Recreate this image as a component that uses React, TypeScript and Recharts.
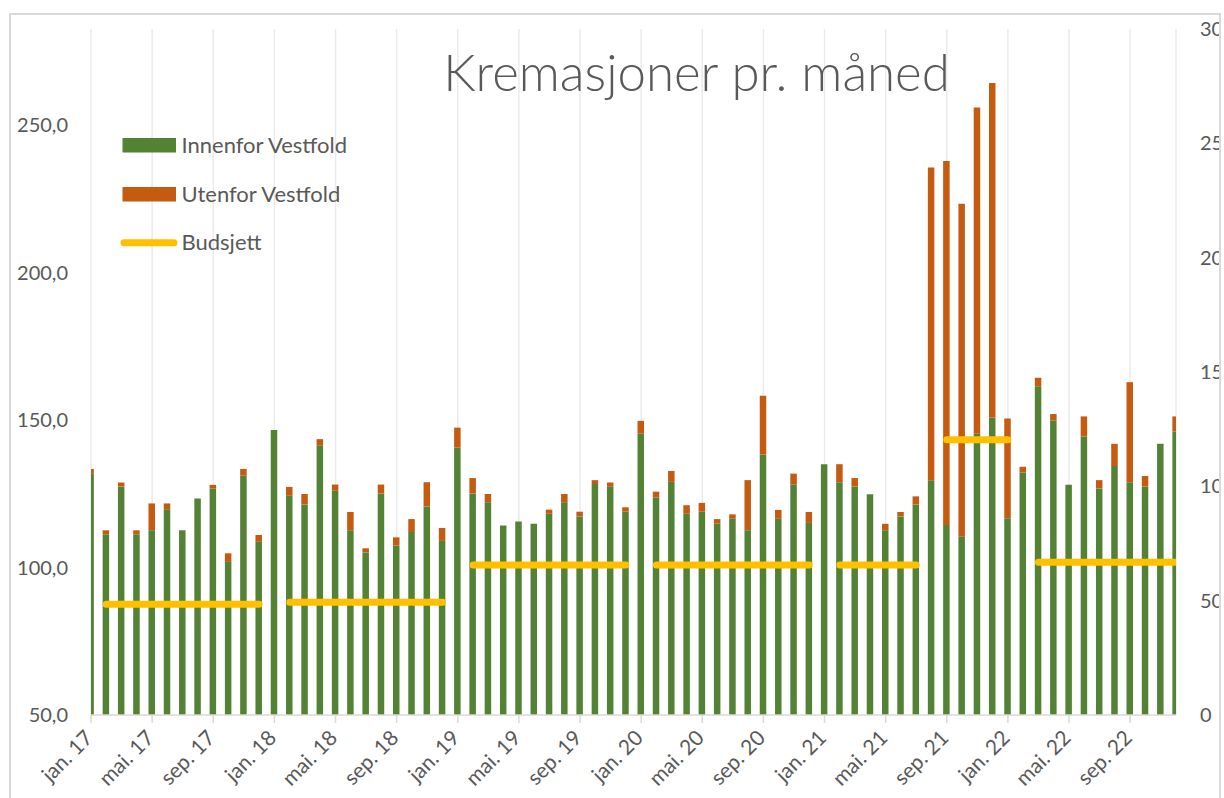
import React from 'react';
import { ComposedChart, Bar, Line, XAxis, YAxis, CartesianGrid } from 'recharts';

const months = [
  'jan. 17', 'feb. 17', 'mar. 17', 'apr. 17', 'mai. 17', 'jun. 17', 'jul. 17', 'aug. 17', 'sep. 17', 'okt. 17', 'nov. 17', 'des. 17',
  'jan. 18', 'feb. 18', 'mar. 18', 'apr. 18', 'mai. 18', 'jun. 18', 'jul. 18', 'aug. 18', 'sep. 18', 'okt. 18', 'nov. 18', 'des. 18',
  'jan. 19', 'feb. 19', 'mar. 19', 'apr. 19', 'mai. 19', 'jun. 19', 'jul. 19', 'aug. 19', 'sep. 19', 'okt. 19', 'nov. 19', 'des. 19',
  'jan. 20', 'feb. 20', 'mar. 20', 'apr. 20', 'mai. 20', 'jun. 20', 'jul. 20', 'aug. 20', 'sep. 20', 'okt. 20', 'nov. 20', 'des. 20',
  'jan. 21', 'feb. 21', 'mar. 21', 'apr. 21', 'mai. 21', 'jun. 21', 'jul. 21', 'aug. 21', 'sep. 21', 'okt. 21', 'nov. 21', 'des. 21',
  'jan. 22', 'feb. 22', 'mar. 22', 'apr. 22', 'mai. 22', 'jun. 22', 'jul. 22', 'aug. 22', 'sep. 22', 'okt. 22', 'nov. 22', 'des. 22',
];

const tickLabels = [
  'jan. 17', 'mai. 17', 'sep. 17', 'jan. 18', 'mai. 18', 'sep. 18', 'jan. 19', 'mai. 19', 'sep. 19',
  'jan. 20', 'mai. 20', 'sep. 20', 'jan. 21', 'mai. 21', 'sep. 21', 'jan. 22', 'mai. 22', 'sep. 22',
];

const innenfor = [
  131.9, 111.3, 127.4, 111.3, 112.6, 119.7, 112.6, 123.4, 126.7, 101.9, 131.1, 108.7,
  146.6, 124.3, 121.3, 141.4, 126.0, 112.6, 105.1, 125.1, 107.4, 112.0, 120.7, 109.0,
  140.6, 125.1, 122.1, 114.2, 115.6, 114.8, 118.2, 122.1, 117.3, 128.3, 127.5, 118.9,
  145.4, 123.7, 129.0, 118.2, 118.9, 114.9, 116.5, 112.6, 138.3, 116.5, 128.1, 115.1,
  135.0, 128.9, 127.4, 124.8, 112.6, 117.3, 121.3, 129.6, 114.4, 110.4, 145.3, 150.8,
  116.7, 132.2, 161.4, 149.8, 128.0, 144.4, 126.8, 134.4, 128.9, 127.4, 141.9, 146.1,
];

const utenfor = [
  1.5, 1.3, 1.4, 1.3, 9.1, 2.0, 0, 0, 1.3, 2.9, 2.3, 2.3,
  0, 3.0, 3.6, 2.1, 2.1, 6.2, 1.4, 3.0, 2.8, 4.4, 8.2, 4.4,
  6.8, 5.2, 2.8, 0, 0, 0, 1.4, 2.8, 1.6, 1.3, 1.3, 1.5,
  4.3, 2.0, 3.7, 2.9, 3.0, 1.5, 1.5, 17.0, 19.9, 3.0, 3.7, 3.7,
  0, 6.1, 2.9, 0, 2.2, 1.5, 2.8, 106.0, 123.4, 112.9, 110.6, 113.4,
  33.8, 1.9, 2.9, 2.2, 0, 6.8, 2.8, 7.5, 33.9, 3.6, 0, 5.1,
];

const budsjett: (number | null)[] = [
  null, 87.5, 87.5, 87.5, 87.5, 87.5, 87.5, 87.5, 87.5, 87.5, 87.5, 87.5,
  null, 88.2, 88.2, 88.2, 88.2, 88.2, 88.2, 88.2, 88.2, 88.2, 88.2, 88.2,
  null, 100.8, 100.8, 100.8, 100.8, 100.8, 100.8, 100.8, 100.8, 100.8, 100.8, 100.8,
  null, 100.8, 100.8, 100.8, 100.8, 100.8, 100.8, 100.8, 100.8, 100.8, 100.8, 100.8,
  null, 100.8, 100.8, 100.8, 100.8, 100.8, 100.8, null, 143.3, 143.3, 143.3, 143.3,
  143.3, null, 101.8, 101.8, 101.8, 101.8, 101.8, 101.8, 101.8, 101.8, 101.8, 101.8,
];

const leftTicks = [50, 100, 150, 200, 250];
const rightTicks = [0, 50, 100, 150, 200, 250, 300];

const data = months.map((m, i) => ({
  idx: i,
  month: m,
  innenfor: innenfor[i],
  utenfor: utenfor[i],
  budsjett: budsjett[i],
}));

const xTicks = tickLabels.map((l) => months.indexOf(l));

const GREEN = '#548235';
const ORANGE = '#c55a11';
const YELLOW = '#ffc000';
const TEXT = '#595959';
const FONT = 'Lato, "Open Sans", sans-serif';

const XTick = (props: any) => {
  const { x, y, payload } = props;
  return (
    <text
      x={0}
      y={0}
      transform={`translate(${x - 2},${y + 9}) rotate(-45)`}
      textAnchor="end"
      dy="0.35em"
      fill={TEXT}
      fontSize={21}
      fontFamily={FONT}
    >
      {months[payload.value]}
    </text>
  );
};

export default function App() {
  return (
    <div
      style={{
        position: 'absolute',
        left: 0,
        top: 0,
        width: 1224,
        height: 798,
        overflow: 'hidden',
        background: '#ffffff',
        fontFamily: FONT,
      }}
    >
      <div style={{ position: 'absolute', left: 0, top: 0, width: 1221, height: 798, overflow: 'hidden' }}>
        <ComposedChart
          width={1260}
          height={798}
          data={data}
          margin={{ top: 29, right: 0, bottom: 0, left: 0 }}
        >
          <CartesianGrid xAxisId="x" yAxisId="left" horizontal={false} stroke="#ebebeb" strokeWidth={1.5} />
          <XAxis
            xAxisId="x"
            dataKey="idx"
            type="number"
            domain={[0, 71]}
            ticks={xTicks}
            interval={0}
            allowDataOverflow
            height={83}
            tick={<XTick />}
            tickSize={8}
            tickLine={{ stroke: '#d9d9d9', strokeWidth: 1.5 }}
            axisLine={{ stroke: '#d9d9d9', strokeWidth: 1.5 }}
          />
          <YAxis
            yAxisId="left"
            width={91}
            domain={[50, 282.5]}
            ticks={leftTicks}
            allowDataOverflow
            interval={0}
            tickFormatter={(v: number) => v.toFixed(1).replace('.', ',')}
            axisLine={false}
            tickLine={false}
            tickSize={0}
            tickMargin={23}
            tick={{ fill: TEXT, fontSize: 20, fontFamily: FONT }}
          />
          <YAxis
            yAxisId="right"
            orientation="right"
            width={84}
            domain={[0, 300]}
            ticks={rightTicks}
            allowDataOverflow
            interval={0}
            axisLine={false}
            tickLine={false}
            tickSize={0}
            tickMargin={24}
            tick={{ fill: TEXT, fontSize: 20, fontFamily: FONT }}
          />
          <Bar xAxisId="x" yAxisId="left" dataKey="innenfor" stackId="a" fill={GREEN} barSize={6.5} isAnimationActive={false} />
          <Bar xAxisId="x" yAxisId="left" dataKey="utenfor" stackId="a" fill={ORANGE} barSize={6.5} isAnimationActive={false} />
          <Line
            xAxisId="x"
            yAxisId="left"
            dataKey="budsjett"
            stroke={YELLOW}
            strokeWidth={7}
            strokeLinecap="round"
            dot={false}
            activeDot={false}
            connectNulls={false}
            isAnimationActive={false}
          />
          <Line
            xAxisId="x"
            yAxisId="right"
            dataKey="utenfor"
            stroke="none"
            strokeOpacity={0}
            dot={false}
            activeDot={false}
            legendType="none"
            isAnimationActive={false}
          />
        </ComposedChart>
      </div>
      <svg
        width={1224}
        height={798}
        style={{ position: 'absolute', left: 0, top: 0, pointerEvents: 'none' }}
      >
        <text x={696.5} y={91} textAnchor="middle" fontSize={51} fontWeight={300} fill={TEXT} fontFamily={FONT}>
          Kremasjoner pr. måned
        </text>
        <rect x={122.5} y={138} width={53.5} height={14.5} fill={GREEN} />
        <text x={181.5} y={152.5} fontSize={22} fill={TEXT} fontFamily={FONT}>Innenfor Vestfold</text>
        <rect x={122.5} y={187} width={53.5} height={14.5} fill={ORANGE} />
        <text x={181.5} y={201.5} fontSize={22} fill={TEXT} fontFamily={FONT}>Utenfor Vestfold</text>
        <line x1={124} y1={242.7} x2={174} y2={242.7} stroke={YELLOW} strokeWidth={7} strokeLinecap="round" />
        <text x={181.5} y={249.5} fontSize={22} fill={TEXT} fontFamily={FONT}>Budsjett</text>
      </svg>
      <div
        style={{
          position: 'absolute',
          left: 9,
          top: 13,
          width: 1212,
          height: 800,
          boxSizing: 'border-box',
          border: '2px solid #d9d9d9',
          pointerEvents: 'none',
        }}
      />
    </div>
  );
}
